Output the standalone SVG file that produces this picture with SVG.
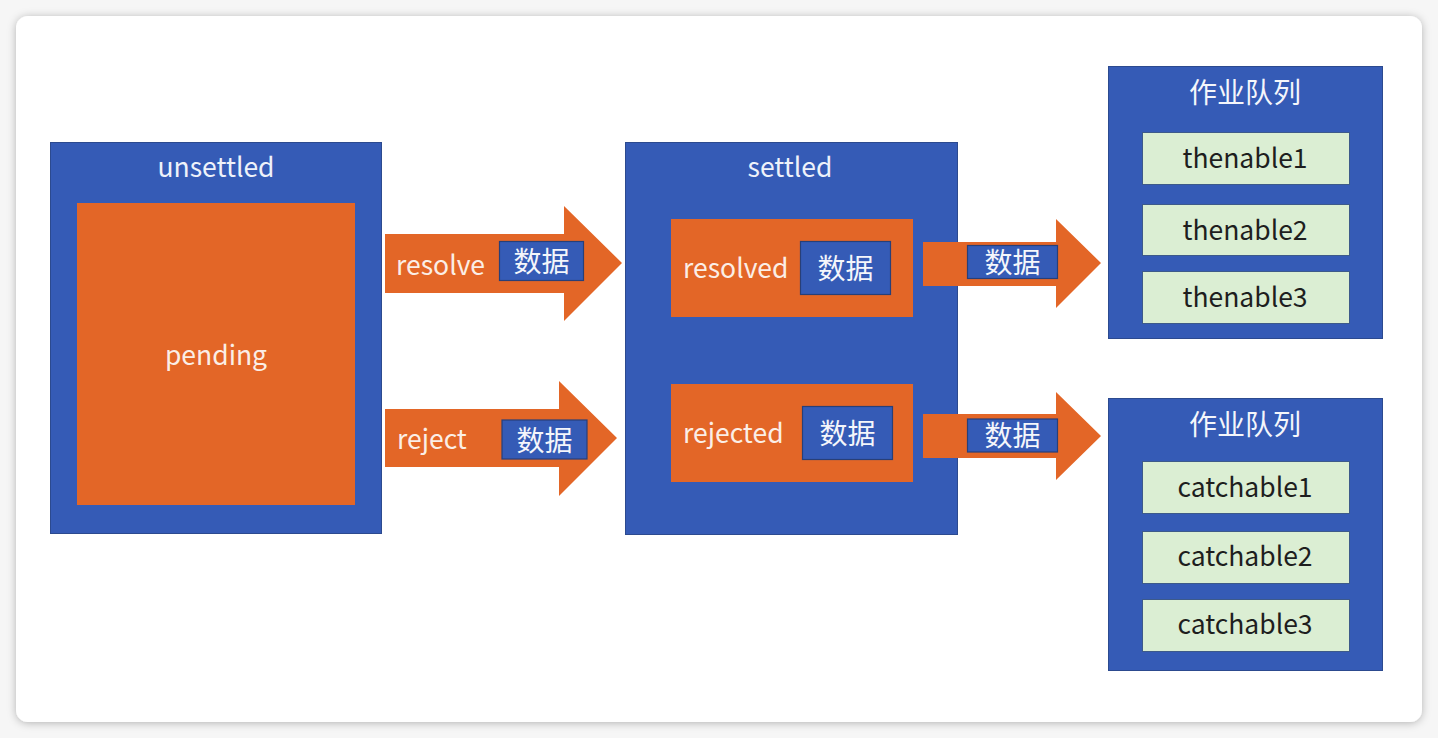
<svg xmlns="http://www.w3.org/2000/svg" width="1438" height="738" viewBox="0 0 1438 738">
<defs>
<filter id="sh" x="-5%" y="-5%" width="110%" height="110%">
<feDropShadow dx="0" dy="1" stdDeviation="4" flood-color="#000" flood-opacity="0.28"/>
</filter>
<style>
.blue{fill:#355bb6;stroke:#2c4a8f;stroke-width:1}
.orange{fill:#e36627}
.green{fill:#dbeed3;stroke:#3d5a8a;stroke-width:1}
.data{fill:#355bb6;stroke:#283f78;stroke-width:1.2}
.t{font-family:"Noto Sans CJK SC","Noto Sans",sans-serif;font-size:26.5px;fill:#eef2fa}
.tw{font-family:"Noto Sans CJK SC","Noto Sans",sans-serif;font-size:26.5px;fill:#fbeee6}
.tc{font-family:"Noto Sans CJK SC","Noto Sans",sans-serif;font-size:28px;fill:#f4f6fb}
.tg{font-family:"Noto Sans CJK SC","Noto Sans",sans-serif;font-size:26.5px;fill:#1e1e1e}
.m{text-anchor:middle}
</style>
</defs>
<rect x="0" y="0" width="1438" height="738" fill="#f6f6f6"/>
<rect x="16" y="16" width="1406" height="706" rx="12" fill="#ffffff" filter="url(#sh)"/>

<g id="unsettled">
<rect class="blue" x="50.5" y="142.5" width="331" height="391"/>
<text class="t m" x="216" y="177">unsettled</text>
</g>
<g id="pending">
<rect class="orange" x="77" y="203" width="278" height="302"/>
<text class="tw m" x="216" y="365">pending</text>
</g>

<g id="settled">
<rect class="blue" x="625.5" y="142.5" width="332" height="392"/>
<text class="t m" x="790" y="177">settled</text>
</g>
<g id="resolved">
<rect class="orange" x="671" y="219" width="242" height="98"/>
<text class="tw" x="683" y="278">resolved</text>
<rect class="data" x="800.5" y="241.5" width="90" height="53"/>
<text class="tc m" x="845.5" y="279">数据</text>
</g>
<g id="rejected">
<rect class="orange" x="671" y="384" width="242" height="98"/>
<text class="tw" x="683" y="443">rejected</text>
<rect class="data" x="802.5" y="406.5" width="90" height="53"/>
<text class="tc m" x="847.5" y="444">数据</text>
</g>

<g id="queue-then">
<rect class="blue" x="1108.5" y="66.5" width="274" height="272"/>
<text class="tc m" x="1245" y="103">作业队列</text>
<rect class="green" x="1142.5" y="132.5" width="207" height="52"/>
<text class="tg m" x="1245" y="168">thenable1</text>
<rect class="green" x="1142.5" y="204.5" width="207" height="51"/>
<text class="tg m" x="1245" y="240">thenable2</text>
<rect class="green" x="1142.5" y="271.5" width="207" height="52"/>
<text class="tg m" x="1245" y="307">thenable3</text>
</g>

<g id="queue-catch">
<rect class="blue" x="1108.5" y="398.5" width="274" height="272"/>
<text class="tc m" x="1245" y="435">作业队列</text>
<rect class="green" x="1142.5" y="461.5" width="207" height="52"/>
<text class="tg m" x="1245" y="497">catchable1</text>
<rect class="green" x="1142.5" y="531.5" width="207" height="52"/>
<text class="tg m" x="1245" y="566">catchable2</text>
<rect class="green" x="1142.5" y="599.5" width="207" height="52"/>
<text class="tg m" x="1245" y="634">catchable3</text>
</g>

<g id="connectors">
<g id="arrow-resolve">
<polygon class="orange" points="385,234 564,234 564,206 622,263 564,321 564,293 385,293"/>
<text class="tw" x="396" y="275">resolve</text>
<rect class="data" x="499.5" y="241.5" width="84" height="39"/>
<text class="tc m" x="541.5" y="272">数据</text>
</g>
<g id="arrow-reject">
<polygon class="orange" points="385,409 559,409 559,381 617,438 559,496 559,467 385,467"/>
<text class="tw" x="397" y="449">reject</text>
<rect class="data" x="502" y="420" width="85" height="39"/>
<text class="tc m" x="544.5" y="451">数据</text>
</g>
<g id="arrow-then">
<polygon class="orange" points="923,242 1056,242 1056,219 1101,263 1056,308 1056,286 923,286"/>
<rect class="data" x="967.5" y="245.5" width="90" height="33"/>
<text class="tc m" x="1012.5" y="273">数据</text>
</g>
<g id="arrow-catch">
<polygon class="orange" points="923,414 1056,414 1056,392 1101,436 1056,480 1056,458 923,458"/>
<rect class="data" x="967.5" y="419" width="90" height="33"/>
<text class="tc m" x="1012.5" y="446">数据</text>
</g>
</g>
</svg>
